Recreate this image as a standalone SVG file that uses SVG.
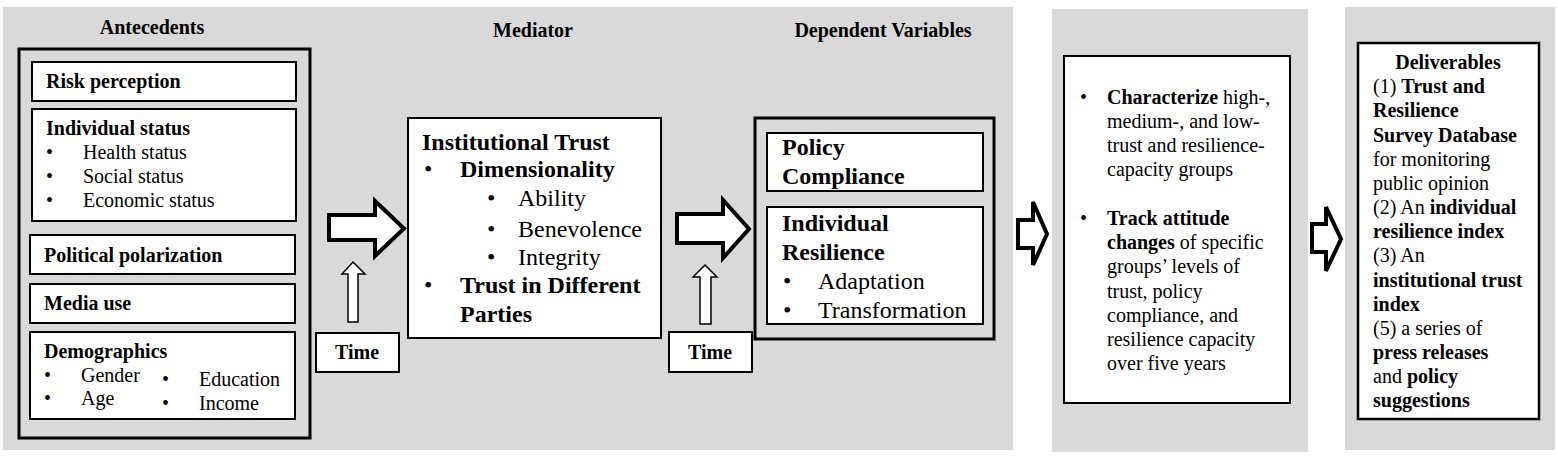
<svg xmlns="http://www.w3.org/2000/svg" width="1558" height="458" viewBox="0 0 1558 458">
<style>
text{font-family:"Liberation Serif","Times New Roman",serif;font-size:20px;fill:#000}
.b{font-weight:bold}
.l{font-size:24px}
.panel{fill:#d9d9d9}
.box{fill:#fff;stroke:#000;stroke-width:2}
.outer{fill:none;stroke:#000;stroke-width:3}
.big{fill:#fff;stroke:#000;stroke-width:4;stroke-linejoin:miter}
.up{fill:#fff;stroke:#000;stroke-width:1.5}
.c{text-anchor:middle}
</style>
<rect width="1558" height="458" fill="#fff"/>
<g id="panels">
<rect class="panel" x="3" y="7" width="1010" height="443"/>
<rect class="panel" x="1052" y="9" width="256" height="443"/>
<rect class="panel" x="1345" y="7" width="210" height="443"/>
</g>
<g id="titles">
<text class="b c" x="152" y="34">Antecedents</text>
<text class="b c" x="533" y="37">Mediator</text>
<text class="b c" x="883" y="37">Dependent Variables</text>
</g>
<g id="antecedents">
<rect class="outer" x="19" y="49" width="291" height="389"/>
<g id="risk">
<rect class="box" x="32" y="62" width="264" height="39"/>
<text class="b" x="46" y="88">Risk perception</text>
</g>
<g id="individual-status">
<rect class="box" x="32" y="109" width="264" height="112"/>
<text class="b" x="46" y="135">Individual status</text>
<text x="46" y="159">•</text><text x="83" y="159">Health status</text>
<text x="46" y="183">•</text><text x="83" y="183">Social status</text>
<text x="46" y="207">•</text><text x="83" y="207">Economic status</text>
</g>
<g id="polarization">
<rect class="box" x="30" y="235" width="265" height="39"/>
<text class="b" x="44" y="262">Political polarization</text>
</g>
<g id="media">
<rect class="box" x="30" y="284" width="265" height="39"/>
<text class="b" x="44" y="310">Media use</text>
</g>
<g id="demographics">
<rect class="box" x="30" y="332" width="265" height="87"/>
<text class="b" x="44" y="358">Demographics</text>
<text x="44" y="382">•</text><text x="81" y="382">Gender</text>
<text x="44" y="405">•</text><text x="81" y="405">Age</text>
<text x="162" y="386">•</text><text x="199" y="386">Education</text>
<text x="162" y="410">•</text><text x="199" y="410">Income</text>
</g>
</g>
<g id="time1">
<rect class="box" x="316" y="333" width="83" height="39"/>
<text class="b c" x="357" y="359">Time</text>
</g>
<g id="mediator">
<rect class="box" x="408" y="118" width="253" height="220"/>
<text class="b l" x="422" y="150">Institutional Trust</text>
<text class="l" x="424" y="177">•</text><text class="b l" x="460" y="177">Dimensionality</text>
<text class="l" x="487" y="206">•</text><text class="l" x="518" y="206">Ability</text>
<text class="l" x="487" y="237">•</text><text class="l" x="518" y="237">Benevolence</text>
<text class="l" x="487" y="265">•</text><text class="l" x="518" y="265">Integrity</text>
<text class="l" x="424" y="293">•</text><text class="b l" x="460" y="293">Trust in Different</text>
<text class="b l" x="460" y="322">Parties</text>
</g>
<g id="time2">
<rect class="box" x="669" y="332" width="83" height="40"/>
<text class="b c" x="710" y="359">Time</text>
</g>
<g id="dependent">
<rect class="outer" x="755" y="118" width="239" height="221"/>
<g id="policy">
<rect class="box" x="767" y="133" width="216" height="58"/>
<text class="b l" x="782" y="155">Policy</text>
<text class="b l" x="782" y="184">Compliance</text>
</g>
<g id="resilience">
<rect class="box" x="767" y="207" width="216" height="117"/>
<text class="b l" x="782" y="231">Individual</text>
<text class="b l" x="782" y="260">Resilience</text>
<text class="l" x="783" y="289">•</text><text class="l" x="818" y="289">Adaptation</text>
<text class="l" x="783" y="318">•</text><text class="l" x="818" y="318">Transformation</text>
</g>
</g>
<g id="outcomes">
<rect class="box" x="1064" y="56" width="226" height="347"/>
<text x="1080" y="104">•</text><text x="1107" y="104"><tspan class="b">Characterize</tspan> high-,</text>
<text x="1107" y="128">medium-, and low-</text>
<text x="1107" y="152">trust and resilience-</text>
<text x="1107" y="176">capacity groups</text>
<text x="1080" y="225">•</text><text x="1107" y="225"><tspan class="b">Track attitude</tspan></text>
<text x="1107" y="249"><tspan class="b">changes</tspan> of specific</text>
<text x="1107" y="273">groups’ levels of</text>
<text x="1107" y="298">trust, policy</text>
<text x="1107" y="322">compliance, and</text>
<text x="1107" y="346">resilience capacity</text>
<text x="1107" y="370">over five years</text>
</g>
<g id="deliverables">
<rect class="box" x="1358" y="43" width="181" height="376" style="stroke-width:2.5"/>
<text class="b c" x="1448" y="69">Deliverables</text>
<text x="1373" y="93">(1) <tspan class="b">Trust and</tspan></text>
<text class="b" x="1373" y="117">Resilience</text>
<text class="b" x="1373" y="142">Survey Database</text>
<text x="1373" y="166">for monitoring</text>
<text x="1373" y="190">public opinion</text>
<text x="1373" y="214">(2) An <tspan class="b">individual</tspan></text>
<text class="b" x="1373" y="238">resilience index</text>
<text x="1373" y="262">(3) An</text>
<text class="b" x="1373" y="287">institutional trust</text>
<text class="b" x="1373" y="311">index</text>
<text x="1373" y="335">(5) a series of</text>
<text class="b" x="1373" y="359">press releases</text>
<text x="1373" y="383">and <tspan class="b">policy</tspan></text>
<text class="b" x="1373" y="407">suggestions</text>
</g>
<g id="connectors">
<path class="big" d="M329,215 H375 V201 L404,228.5 L375,256 V240 H329 Z"/>
<path class="big" d="M677,214 H723 V200 L749,229 L723,258 V243 H677 Z"/>
<path class="big" d="M1018,220 H1033 V202 L1047,234 L1033,265 V248 H1018 Z"/>
<path class="big" d="M1312,224 H1326 V207 L1341,239 L1326,271 V252 H1312 Z"/>
<path class="up" d="M353,262 L365,274 H358 V322 H348 V274 H342 Z"/>
<path class="up" d="M705,265 L717,277 H711 V324 H700 V277 H693 Z"/>
</g>
</svg>
